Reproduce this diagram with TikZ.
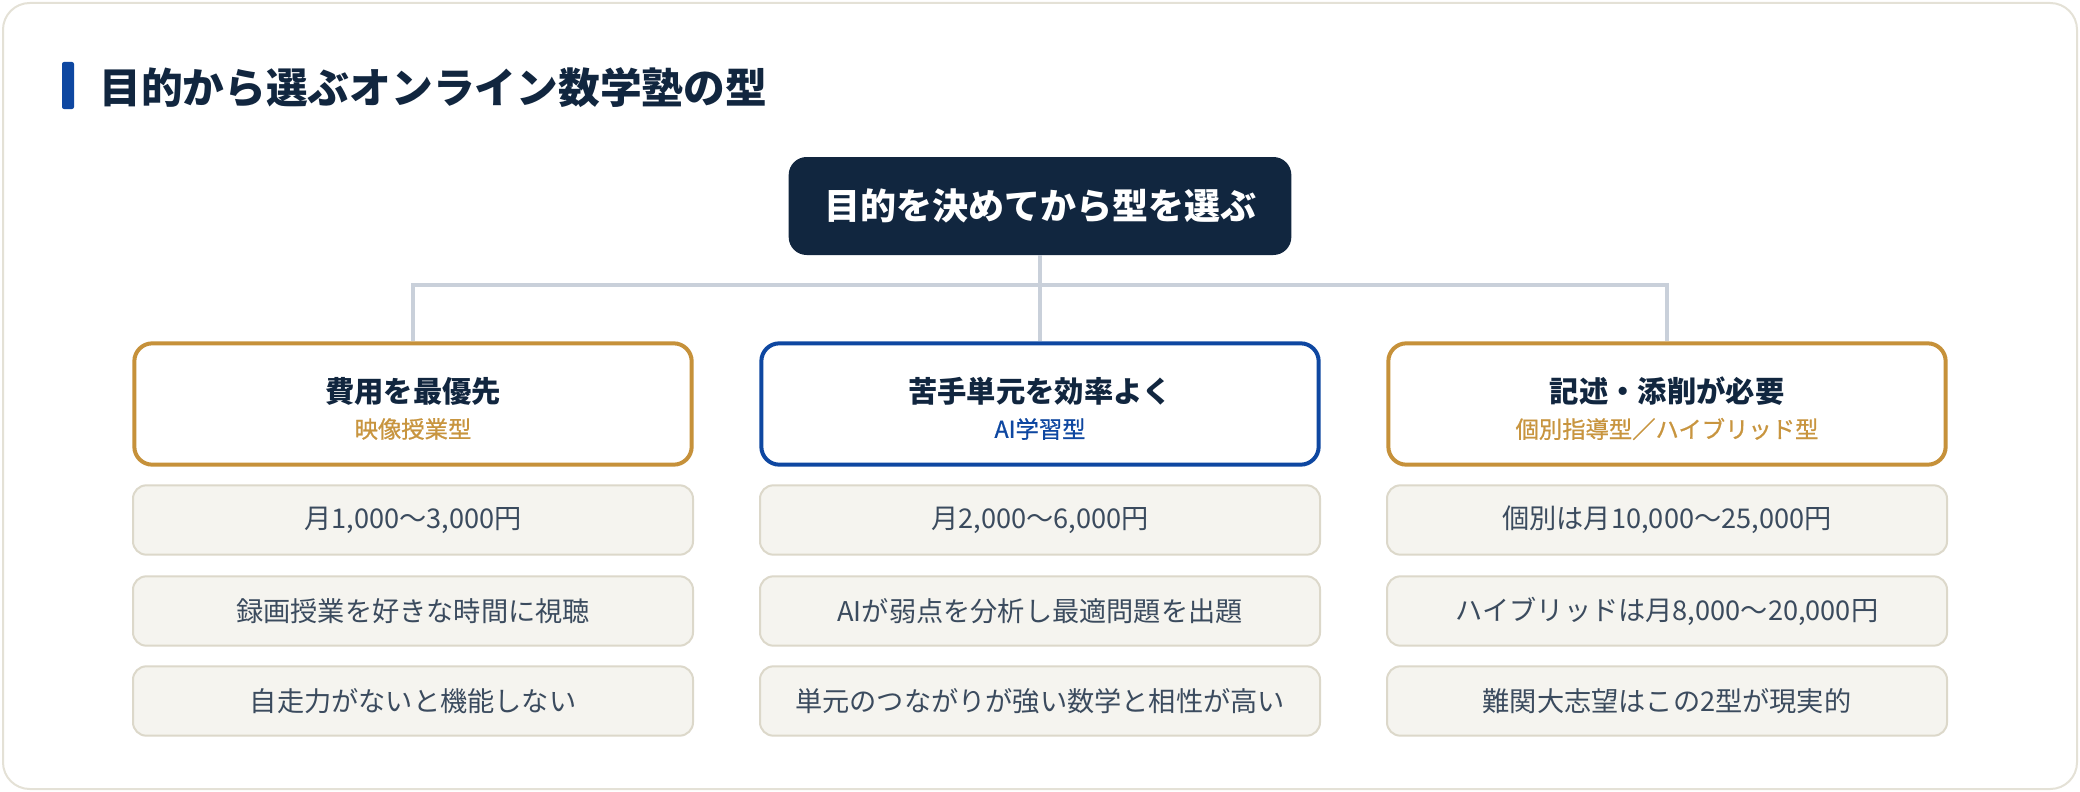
\documentclass[tikz,border=0pt]{standalone}
\usepackage{fontspec}
\setmainfont{Noto Sans CJK JP}
\newfontfamily\jp{Noto Sans CJK JP}
\newfontfamily\jpmed[FakeBold=0.8]{Noto Sans CJK JP}
\definecolor{navy}{HTML}{11263F}
\definecolor{gold}{HTML}{C6913A}
\definecolor{subgold}{HTML}{C8953F}
\definecolor{royal}{HTML}{0E47A1}
\definecolor{linegray}{HTML}{C9D0DA}
\definecolor{itemfill}{HTML}{F5F4EF}
\definecolor{itemline}{HTML}{DCD8CA}
\definecolor{itemtext}{HTML}{3B4B5E}
\definecolor{frameline}{HTML}{E4E1D6}
\tikzset{
  hdrbox/.style={draw, line width=3pt, fill=white, rounded corners=13.5pt,
    minimum width=418pt, minimum height=91pt, inner sep=0pt},
  itembox/.style={draw=itemline, line width=1.5pt, fill=itemfill, rounded corners=10pt,
    minimum width=420pt, minimum height=52pt, inner sep=0pt,
    text=itemtext, font=\jp\fontsize{20.4}{24}\selectfont},
  hdrtitle/.style={inner sep=0pt, text=navy, font=\jp\bfseries\fontsize{22}{26}\selectfont},
  hdrsub/.style={inner sep=0pt, font=\jpmed\fontsize{17.5}{21}\selectfont},
  conn/.style={draw=linegray, line width=3pt},
}
\begin{document}
\begin{tikzpicture}[x=0.75pt, y=-0.75pt]
\useasboundingbox (0,0) rectangle (2080,792);
\draw[draw=frameline, line width=1.5pt, fill=white, rounded corners=20pt] (3,3) rectangle (2077,789);
% title
\fill[royal, rounded corners=1.5pt] (62,62) rectangle (74,109);
\node[anchor=west, inner sep=0pt, text=navy, font=\jp\bfseries\fontsize{31.3}{36}\selectfont] (title) at (99,88) {目的から選ぶオンライン数学塾の型};
% top box
\node[fill=navy, rounded corners=13.5pt, minimum width=377pt, minimum height=73.5pt, inner sep=0pt,
  text=white, font=\jp\bfseries\fontsize{27}{32}\selectfont] (top) at (1040,206) {目的を決めてから型を選ぶ};
% headers
\node[hdrbox, draw=gold] (h1) at (413,404) {};
\node[hdrbox, draw=royal] (h2) at (1040,404) {};
\node[hdrbox, draw=gold] (h3) at (1667,404) {};
\node[hdrtitle] (t1) at (413,391) {費用を最優先};
\node[hdrsub, text=subgold] (s1) at (413,429) {映像授業型};
\node[hdrtitle] (t2) at (1040,391) {苦手単元を効率よく};
\node[hdrsub, text=royal] (s2) at (1040,429) {AI学習型};
\node[hdrtitle] (t3) at (1667,391) {記述・添削が必要};
\node[hdrsub, text=subgold] (s3) at (1667,429) {個別指導型／ハイブリッド型};
% connectors
\coordinate (j) at (1040,285);
\draw[conn] (top.south) -- (j);
\draw[conn] (h1.north) -- (h1.north |- j) -- (h3.north |- j) -- (h3.north);
\draw[conn] (j) -- (h2.north);
% items
\node[itembox] (a1) at (413,520) {月1,000〜3,000円};
\node[itembox] (a2) at (413,611) {録画授業を好きな時間に視聴};
\node[itembox] (a3) at (413,701) {自走力がないと機能しない};
\node[itembox] (b1) at (1040,520) {月2,000〜6,000円};
\node[itembox] (b2) at (1040,611) {AIが弱点を分析し最適問題を出題};
\node[itembox] (b3) at (1040,701) {単元のつながりが強い数学と相性が高い};
\node[itembox] (c1) at (1667,520) {個別は月10,000〜25,000円};
\node[itembox] (c2) at (1667,611) {ハイブリッドは月8,000〜20,000円};
\node[itembox] (c3) at (1667,701) {難関大志望はこの2型が現実的};
\end{tikzpicture}
\end{document}
